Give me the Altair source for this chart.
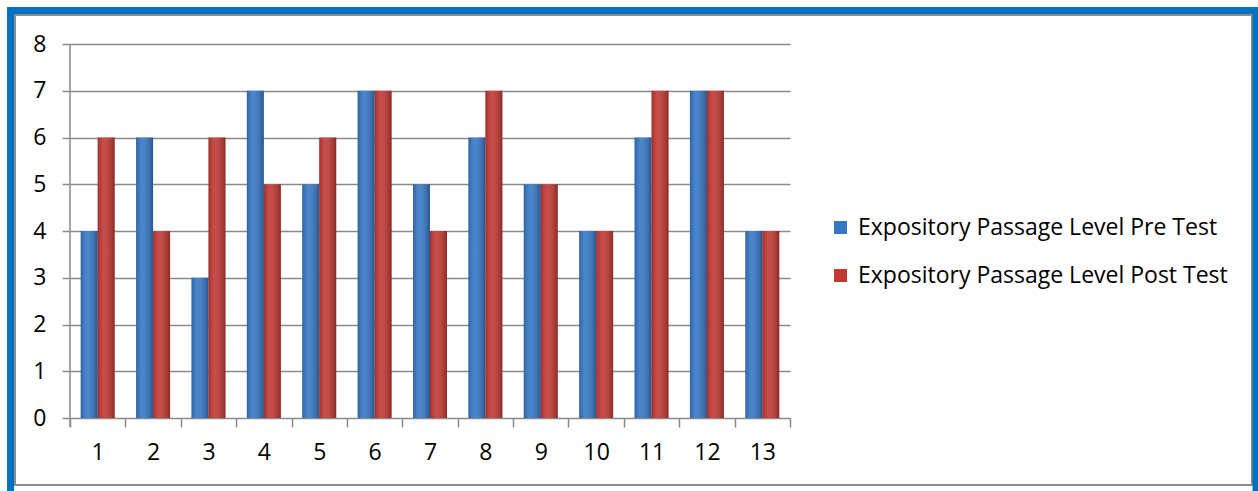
import altair as alt
import pandas as pd

categories = [str(i) for i in range(1, 14)]
pre_test = [4, 6, 3, 7, 5, 7, 5, 6, 5, 4, 6, 7, 4]
post_test = [6, 4, 6, 5, 6, 7, 4, 7, 5, 4, 7, 7, 4]
series_names = ["Expository Passage Level Pre Test", "Expository Passage Level Post Test"]
series_colors = ["#3677C6", "#C23833"]

rows = []
for c, a, b in zip(categories, pre_test, post_test):
    rows.append({"cat": c, "series": series_names[0], "value": a})
    rows.append({"cat": c, "series": series_names[1], "value": b})
df = pd.DataFrame(rows)

W, H = 720, 374
FONT = "Open Sans"
GRID = "#8A8A8A"

x_enc = alt.X("cat:N", sort=categories, scale=alt.Scale(paddingInner=0, paddingOuter=0),
              axis=alt.Axis(title=None, ticks=True, tickBand="extent", tickSize=9,
                            tickColor=GRID, tickWidth=1.5, domain=False, labelAngle=0,
                            labelFontSize=23, labelFont=FONT, labelColor="#000000",
                            labelPadding=25, labelBaseline="middle"))
xoff = alt.XOffset("series:N", sort=series_names,
                   scale=alt.Scale(paddingOuter=0.63, paddingInner=0))
y_enc = alt.Y("value:Q", scale=alt.Scale(domain=[0, 8], nice=False),
              axis=alt.Axis(title=None, values=list(range(0, 9)), grid=True,
                            gridColor=GRID, gridWidth=1.5, tickColor=GRID, tickWidth=1.5,
                            tickSize=8, domain=False, labelFontSize=23, labelFont=FONT,
                            labelColor="#000000", labelPadding=16))

bars = alt.Chart(df).mark_bar(size=17).encode(
    x=x_enc, xOffset=xoff, y=y_enc,
    color=alt.Color("series:N", sort=series_names,
                    scale=alt.Scale(domain=series_names, range=series_colors),
                    legend=alt.Legend(title=None, orient="none", legendX=759, legendY=172,
                                      symbolType="square", symbolSize=170,
                                      symbolStrokeWidth=0, labelFont=FONT, labelFontSize=23,
                                      labelColor="#000000", rowPadding=24, labelOffset=6,
                                      labelLimit=500)),
)

shade = alt.Chart(df).mark_bar(
    size=17,
    fill=alt.Gradient(gradient="linear", x1=0, x2=1, y1=0, y2=0,
                      stops=[alt.GradientStop(offset=0, color="rgba(0,0,0,0.18)"),
                             alt.GradientStop(offset=0.35, color="rgba(255,255,255,0.10)"),
                             alt.GradientStop(offset=1, color="rgba(0,0,0,0.28)")])
).encode(x=alt.X("cat:N", sort=categories), xOffset=xoff, y=alt.Y("value:Q"))

one = alt.Data(values=[{"k": 1}])
y_line = alt.Chart(one).mark_rule(color=GRID, strokeWidth=1.5).encode(
    x=alt.value(0), y=alt.value(0), y2=alt.value(H + 9))

frame_blue = alt.Chart(one).mark_rect(fillOpacity=0, stroke="#0070C0", strokeWidth=7).encode(
    x=alt.value(-59.5), x2=alt.value(1186), y=alt.value(-33.5), y2=alt.value(480))
frame_grey = alt.Chart(one).mark_rect(fillOpacity=0, stroke="#8C8C8C", strokeWidth=2).encode(
    x=alt.value(-55), x2=alt.value(1182), y=alt.value(-29), y2=alt.value(441))

chart = alt.layer(frame_grey, frame_blue, y_line, bars, shade).properties(
    width=W, height=H,
    autosize=alt.AutoSizeParams(type="none"),
    padding={"left": 70, "top": 44, "right": 1258 - 70 - W, "bottom": 491 - 44 - H},
    background="white",
).configure_view(stroke=None)

chart.save("out.html", embed_options={"renderer": "svg", "actions": False})
